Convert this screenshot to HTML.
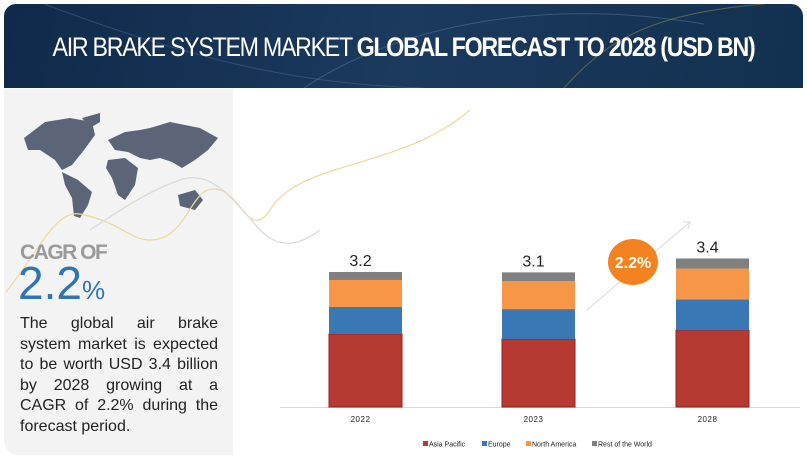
<!DOCTYPE html>
<html><head><meta charset="utf-8"><style>
body{margin:0;width:807px;height:463px;background:#fff;font-family:"Liberation Sans",sans-serif;position:relative;overflow:hidden}
#hdr{position:absolute;left:4px;top:4px;width:799px;height:84px;border-radius:12px 12px 0 0;background:linear-gradient(100deg,#0f2a4a,#1b3a5e 50%,#12304f);overflow:hidden}
#hdr h1{margin:0;position:absolute;left:-150px;right:-150px;top:28px;text-align:center;color:#fff;font-size:27px;font-weight:normal;letter-spacing:-1.5px;transform:scaleX(0.86);white-space:nowrap}
#left{position:absolute;left:4px;top:89px;width:229px;height:366px;background:#f3f3f3;border-radius:0 0 0 14px}
#cagr{position:absolute;left:20px;top:241px;font-size:21px;font-weight:bold;color:#9a9a9a;letter-spacing:-1.5px}
#big{position:absolute;left:18px;top:260px;font-size:46px;color:#2e75b6;line-height:46px}
#big span{font-size:26px}
#para{position:absolute;left:20px;top:314px;width:198px;font-size:16px;line-height:20.6px;color:#222}
#para div{text-align:justify;text-align-last:justify;white-space:nowrap;height:20.6px}
#para div.last{text-align-last:left}
</style></head><body>
<div id="hdr">
<svg width="799" height="84" style="position:absolute;left:0;top:0">
<path d="M40 0 C200 60 300 80 420 84" stroke="#4a6a8a" fill="none" opacity=".5"/>
<path d="M300 84 C380 30 520 -10 700 20" stroke="#5c7a98" fill="none" opacity=".5"/>
<path d="M560 84 C600 40 640 10 760 0" stroke="#c9a94a" fill="none" opacity=".4"/>
</svg>
<h1>AIR BRAKE SYSTEM MARKET <b>GLOBAL FORECAST TO 2028 (USD BN)</b></h1>
</div>
<div id="left"></div>
<svg width="807" height="463" style="position:absolute;left:0;top:0">
<g fill="#5b6577">
<path d="M24 138 L45 122 L70 118 L92 122 L95 135 L84 150 L72 165 L62 170 L55 160 L40 150 L28 150Z"/>
<path d="M62 172 L78 180 L92 192 L88 205 L80 218 L74 216 L72 198 L65 185Z"/>
<path d="M82 118 L100 113 L100 122 L90 128Z"/>
<path d="M108 140 L125 132 L140 130 L150 128 L170 122 L200 128 L218 138 L208 150 L195 160 L182 168 L172 162 L160 158 L150 160 L140 158 L128 152 L115 150Z"/>
<path d="M108 160 L125 158 L138 168 L135 185 L125 200 L118 195 L112 178 L106 168Z"/>
<path d="M178 195 L195 190 L203 200 L195 210 L180 206Z"/>
</g>
<path d="M6 292 C40 250 55 210 80 214 C120 222 130 240 150 240 C190 240 190 180 220 190 C240 195 250 240 270 210 C300 160 400 170 470 110" stroke="#eed99a" fill="none" stroke-width="1.2"/>
<path d="M90 230 C120 210 150 190 180 180 C210 170 230 195 260 230 C280 250 300 245 320 230" stroke="#d8d8d8" fill="none" stroke-width="1.2"/>
<path d="M587 310 L690 222" stroke="#e0e0e0" stroke-width="1.2"/>
<path d="M683 222 L690 222 L688 229" stroke="#e0e0e0" fill="none" stroke-width="1.2"/>
</svg>
<div id="cagr">CAGR OF</div>
<div id="big">2.2<span>%</span></div>
<div id="para"><div>The global air brake</div><div>system market is expected</div><div>to be worth USD 3.4 billion</div><div>by 2028 growing at a</div><div>CAGR of 2.2% during the</div><div class="last">forecast period.</div></div>
<svg id="chart" width="807" height="463" style="position:absolute;left:0;top:0"></svg>
<script>
const categories=["2022","2023","2028"];
const totals=["3.2","3.1","3.4"];
const seriesNames=["Asia Pacific","Europe","North America","Rest of the World"];
const asiaPacific=[1.73,1.61,1.82];
const europe=[0.64,0.71,0.73];
const northAmerica=[0.64,0.66,0.73];
const restOfWorld=[0.19,0.21,0.24];
const colors=["#b53a32","#3a78b5","#f79646","#808080"];
const svg=document.getElementById('chart');const NS="http://www.w3.org/2000/svg";
const baseY=407,ppu=42.2,barW=73;const xs=[329,502,676];
function y(v){return baseY-v*ppu;}
function mk(t,a){const e=document.createElementNS(NS,t);for(const k in a)e.setAttribute(k,a[k]);svg.appendChild(e);return e;}
const ax=mk('line',{x1:280,x2:800,y1:baseY+.5,y2:baseY+.5,stroke:'#d9d9d9'});


const series=[asiaPacific,europe,northAmerica,restOfWorld];
categories.forEach((c,i)=>{let acc=0;
 series.forEach((s,j)=>{const r=mk('rect',{x:xs[i],y:y(acc+s[i]),width:barW,height:s[i]*ppu,fill:colors[j]});
  if(j==0){r.setAttribute('stroke','#a01c1c');r.setAttribute('stroke-width','1');}
  
  
  acc+=s[i];});
 const t=mk('text',{x:xs[i]+barW/2-5,y:y(acc)-6,'text-anchor':'middle','font-size':'16','fill':'#222','font-family':'Liberation Sans'});t.textContent=totals[i];
 
 
 const l=mk('text',{x:xs[i]+barW/2-5,y:422,'text-anchor':'middle','font-size':'8','fill':'#222','font-family':'Liberation Sans','letter-spacing':'0.5'});l.textContent=c;
 
 
});
const ell=mk('ellipse',{cx:633,cy:262,rx:25,ry:23,fill:'#f58220'});


const et=mk('text',{x:633,y:268,'text-anchor':'middle','font-size':'16','font-weight':'bold','fill':'#fff','font-family':'Liberation Sans'});et.textContent="2.2%";


const lx=[423,482,526,592];
seriesNames.forEach((n,j)=>{const r=mk('rect',{x:lx[j],y:441,width:5,height:5,fill:colors[j]});
 
 
 const t=mk('text',{x:lx[j]+6,y:446.5,'font-size':'7','fill':'#222','font-family':'Liberation Sans'});t.textContent=n;
 
 
});
</script>
</body></html>
